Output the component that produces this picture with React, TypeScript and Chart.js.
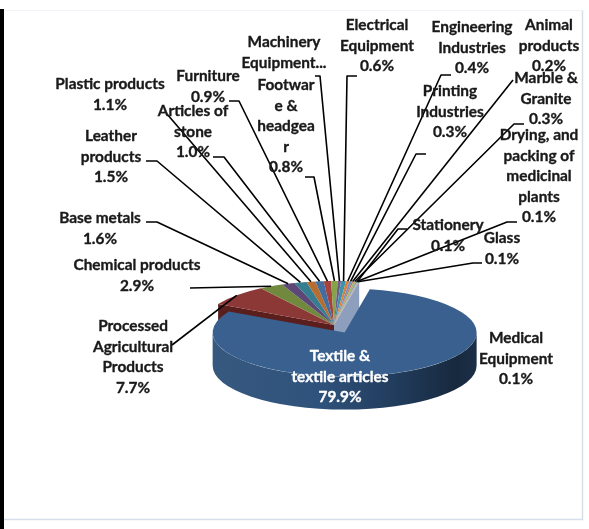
import React, { useEffect, useRef } from "react";
import { Chart, registerables } from "chart.js";

Chart.register(...registerables);

const categories = [
  "Textile & textile articles", "Processed Agricultural Products", "Chemical products", "Base metals",
  "Leather products", "Plastic products", "Articles of stone", "Furniture", "Footwear & headgear",
  "Machinery Equipment...", "Electrical Equipment", "Engineering Industries", "Printing Industries",
  "Animal products", "Marble & Granite", "Drying, and packing of medicinal plants", "Stationery", "Glass",
  "Medical Equipment",
];
const values = [79.9, 7.7, 2.9, 1.6, 1.5, 1.1, 1.0, 0.9, 0.8, 0.4, 0.6, 0.4, 0.3, 0.2, 0.3, 0.1, 0.1, 0.1, 0.1];
const colors = [
  "#39608f", "#8c3836", "#71893f", "#5c4776", "#357d91", "#b66d31", "#426da1", "#a44340", "#86a34a",
  "#6e5a8b", "#3f92a9", "#d9803a", "#6f93c6", "#c56f6c", "#9fbb66", "#8a78a8", "#62aec4", "#e59a5c", "#8fa2c4",
];
const labelLines = [
  ["Textile &", "textile articles"], ["Processed", "Agricultural", "Products"], ["Chemical products"], ["Base metals"],
  ["Leather", "products"], ["Plastic products"], ["Articles of", "stone"], ["Furniture"], ["Footwar", "e &", "headgea", "r"],
  ["Machinery", "Equipment..."], ["Electrical", "Equipment"], ["Engineering", "Industries"], ["Printing", "Industries"],
  ["Animal", "products"], ["Marble &", "Granite"], ["Drying, and", "packing of", "medicinal", "plants"], ["Stationery"], ["Glass"],
  ["Medical", "Equipment"],
];
const showPercent = categories.map((c) => !c.startsWith("Machinery"));

// label layout: centre x, first line middle y
const labelAt: number[][] = [
  [340, 356], [133, 326], [137, 265], [100, 218], [111, 136], [110, 84], [193, 111], [208, 76], [286, 85],
  [284, 42], [377, 25], [472, 27], [450, 91], [549, 25], [546, 78], [539, 135], [448, 225], [502, 238], [516, 338],
];
// leader polylines start: points before the slice end
const leaders: (number[][] | null)[] = [
  null, [[172, 345]], [[190, 288]], [[146, 222], [157, 222]], [[146, 161], [157, 161]], [[167, 114]],
  [[213, 157], [224, 157]], [[229, 101], [239, 101]], [[305, 177], [314, 177]], [[315, 76], [320, 76]],
  [[357, 76], [347, 76]], [[451, 75], [441, 75]], [[426, 154], [416, 154]], [[513, 80]], [[524, 124], [514, 124]],
  [[517, 222], [507, 222]], [[407, 229], [398, 229]], [[482, 263], [473, 263]], null,
];

const SQUASH = 1 / 3;
const DEPTH = 33;
const EXPLODE = 25;
const RADIUS = 132;
const LINE = 20.6;

const pie3d = {
  id: "pie3d",
  beforeDraw(chart: any) {
    const { ctx, width, height } = chart;
    ctx.save();
    ctx.fillStyle = "#ffffff";
    ctx.fillRect(0, 0, width, height);
    ctx.strokeStyle = "#f0f3f8";
    ctx.lineWidth = 1;
    ctx.beginPath();
    ctx.moveTo(4, 10.5);
    ctx.lineTo(582.5, 10.5);
    ctx.stroke();
    ctx.strokeStyle = "#d5dfeb";
    ctx.lineWidth = 1.5;
    ctx.beginPath();
    ctx.moveTo(582.5, 10.5);
    ctx.lineTo(582.5, 519.5);
    ctx.lineTo(4, 519.5);
    ctx.stroke();
    ctx.fillStyle = "#000000";
    ctx.fillRect(0, 9, 4, height - 9);
    ctx.restore();
  },
  beforeDatasetDraw(chart: any) {
    const { ctx } = chart;
    const arcs = chart.getDatasetMeta(0).data;
    const area = chart.chartArea;
    const cx = arcs[0].x;
    const cy = arcs[0].y;
    const R = arcs[0].outerRadius;
    const sq = (fn: () => void) => {
      ctx.save();
      ctx.translate(0, cy);
      ctx.scale(1, SQUASH);
      ctx.translate(0, -cy);
      fn();
      ctx.restore();
    };
    const radialWall = (angle: number, color: string) => {
      const ox = cx + Math.cos(angle) * R;
      const oy = cy + Math.sin(angle) * R * SQUASH;
      ctx.fillStyle = color;
      ctx.beginPath();
      ctx.moveTo(cx, cy);
      ctx.lineTo(ox, oy);
      ctx.lineTo(ox, oy + DEPTH);
      ctx.lineTo(cx, cy + DEPTH);
      ctx.closePath();
      ctx.fill();
    };
    radialWall(arcs[1].startAngle, "#5a1f1d");
    radialWall(arcs[arcs.length - 1].endAngle, "#8d9fbd");
    sq(() => {
      for (let i = 1; i < arcs.length; i++) arcs[i].draw(ctx, area);
    });
    const big = arcs[0];
    const mid = (big.startAngle + big.endAngle) / 2;
    const dx = Math.cos(mid) * EXPLODE;
    const dy = Math.sin(mid) * EXPLODE;
    const bx = cx + dx;
    const by = cy + dy * SQUASH;
    const g = ctx.createLinearGradient(bx - R, 0, bx + R, 0);
    g.addColorStop(0, "#37597f");
    g.addColorStop(0.4, "#2f527c");
    g.addColorStop(0.72, "#203a59");
    g.addColorStop(0.92, "#17293e");
    g.addColorStop(1, "#1b2f47");
    ctx.fillStyle = g;
    ctx.beginPath();
    ctx.ellipse(bx, by, R, R * SQUASH, 0, 0, Math.PI);
    ctx.ellipse(bx, by + DEPTH, R, R * SQUASH, 0, Math.PI, 0, true);
    ctx.closePath();
    ctx.fill();
    sq(() => {
      ctx.translate(dx, dy);
      big.draw(ctx, area);
    });
    return false;
  },
  afterDraw(chart: any) {
    const { ctx } = chart;
    const arcs = chart.getDatasetMeta(0).data;
    const cy = arcs[0].y;
    ctx.save();
    ctx.strokeStyle = "#000000";
    ctx.lineWidth = 1.6;
    ctx.lineJoin = "round";
    arcs.forEach((arc: any, i: number) => {
      const pts = leaders[i];
      if (!pts) return;
      const a = (arc.startAngle + arc.endAngle) / 2;
      ctx.beginPath();
      pts.forEach((p, k) => (k === 0 ? ctx.moveTo(p[0], p[1]) : ctx.lineTo(p[0], p[1])));
      ctx.lineTo(arc.x + Math.cos(a) * arc.outerRadius, cy + Math.sin(a) * arc.outerRadius * SQUASH);
      ctx.stroke();
    });
    ctx.font = 'bold 15.4px Lato, "Noto Sans", sans-serif';
    ctx.textAlign = "center";
    ctx.textBaseline = "middle";
    ctx.lineWidth = 0.35;
    labelLines.forEach((lines, i) => {
      const all = showPercent[i] ? [...lines, `${values[i].toFixed(1)}%`] : lines;
      const col = i === 0 ? "#ffffff" : "#1a1a1a";
      ctx.fillStyle = col;
      ctx.strokeStyle = col;
      all.forEach((t, k) => {
        ctx.fillText(t, labelAt[i][0], labelAt[i][1] + k * LINE);
        ctx.strokeText(t, labelAt[i][0], labelAt[i][1] + k * LINE);
      });
    });
    ctx.restore();
  },
};

export default function App() {
  const ref = useRef<HTMLCanvasElement>(null);
  useEffect(() => {
    document.body.style.margin = "0";
    const chart = new Chart(ref.current!, {
      type: "pie",
      data: {
        labels: categories,
        datasets: [{ data: values, backgroundColor: colors, borderWidth: 0 }],
      },
      options: {
        responsive: false,
        animation: false,
        events: [],
        rotation: 11,
        radius: RADIUS,
        layout: { padding: { left: 79, right: 0, top: 121, bottom: 0 } },
        plugins: { legend: { display: false }, tooltip: { enabled: false } },
      } as any,
      plugins: [pie3d as any],
    });
    return () => chart.destroy();
  }, []);
  return <canvas ref={ref} width={589} height={529} style={{ display: "block" }} />;
}
